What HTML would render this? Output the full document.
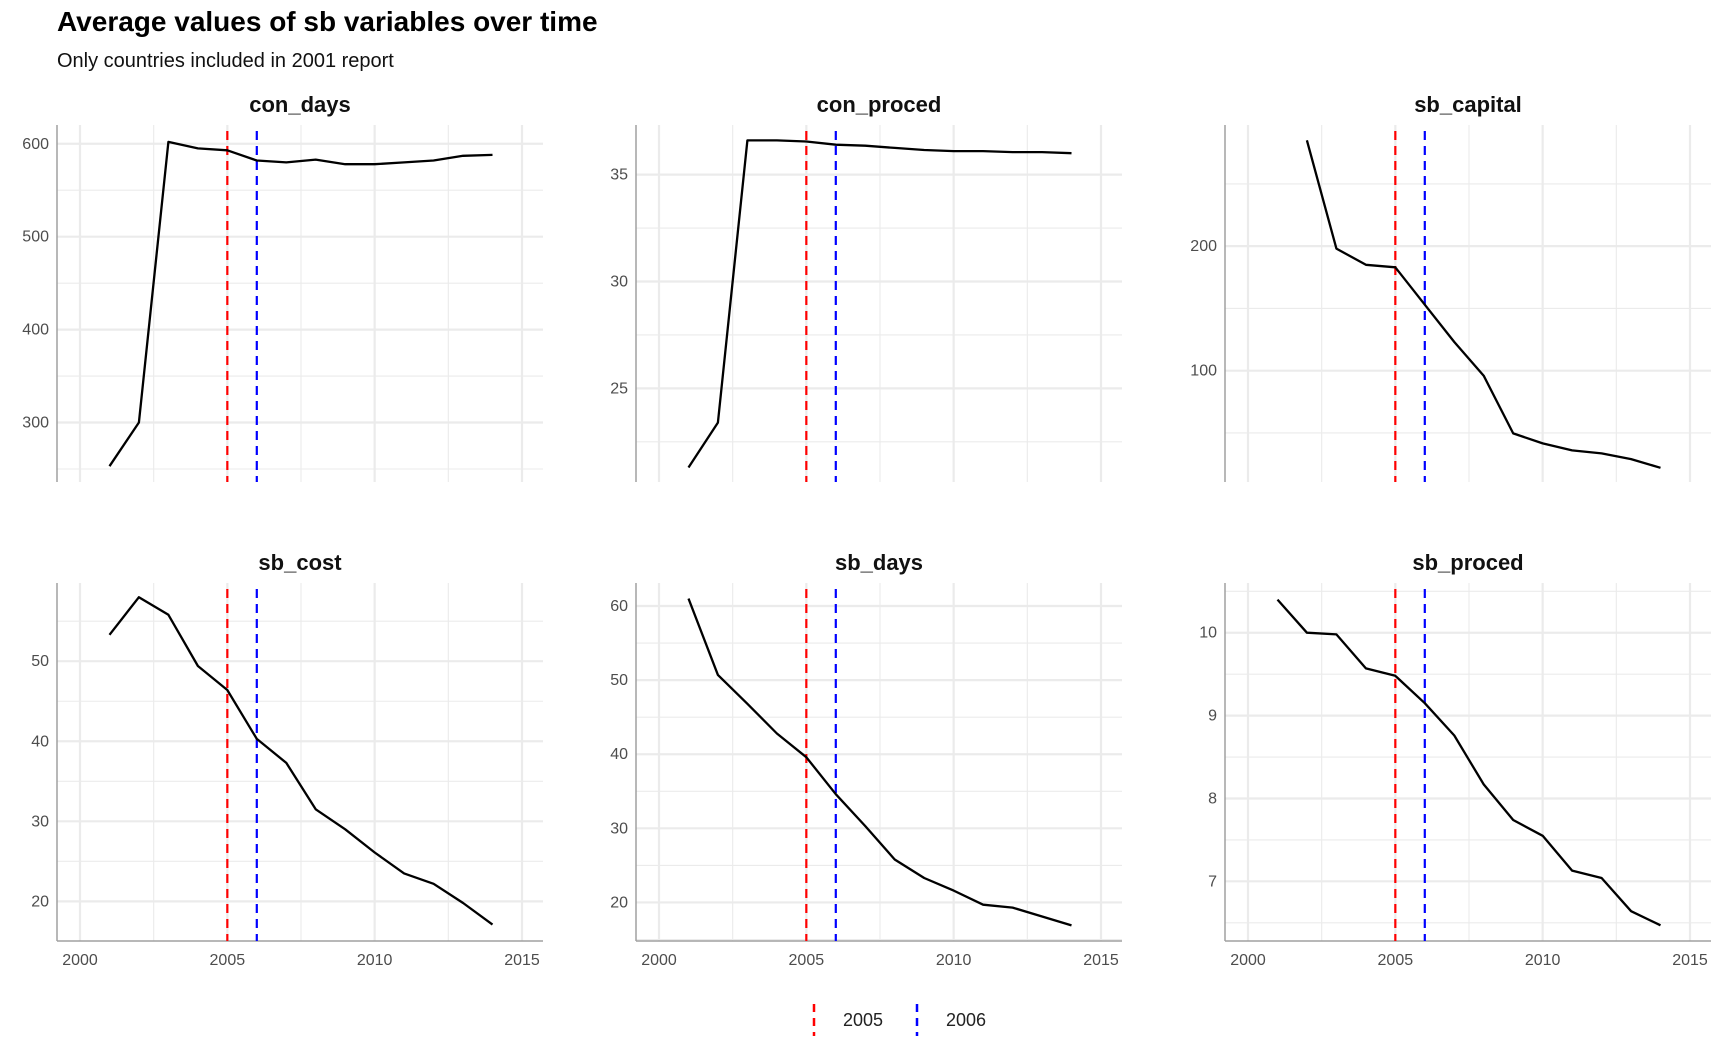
<!DOCTYPE html>
<html><head><meta charset="utf-8"><style>
body{margin:0;background:#fff;}
svg{display:block;font-family:"Liberation Sans",sans-serif;}
</style></head><body>
<svg id="chart" width="1728" height="1056">
<text x="57" y="31" font-size="28" font-weight="bold" fill="#000">Average values of sb variables over time</text>
<text x="57" y="67" font-size="20" fill="#111">Only countries included in 2001 report</text>
<g>
<line x1="814" y1="1004" x2="814" y2="1036" stroke="#ff0000" stroke-width="2.5" stroke-dasharray="8,6"/>
<text x="843" y="1026" font-size="18" fill="#222">2005</text>
<line x1="917" y1="1004" x2="917" y2="1036" stroke="#0000ff" stroke-width="2.5" stroke-dasharray="8,6"/>
<text x="946" y="1026" font-size="18" fill="#222">2006</text>
</g>
</svg>
<script>
const years=[2001,2002,2003,2004,2005,2006,2007,2008,2009,2010,2011,2012,2013,2014];
const panelNames=["con_days","con_proced","sb_capital","sb_cost","sb_days","sb_proced"];
const conDays=[253,300,602,595,593,582,580,583,578,578,580,582,587,588];
const conProced=[21.3,23.4,36.6,36.6,36.55,36.4,36.35,36.25,36.15,36.1,36.1,36.05,36.05,36.0];
const sbCapital=[null,285,198,185,183,153,123,96,49.6,41.6,36,33.6,29,22];
const sbCost=[53.3,58,55.8,49.4,46.4,40.3,37.3,31.5,29,26.1,23.5,22.2,19.8,17.1];
const sbDays=[61,50.7,46.8,42.8,39.6,34.6,30.3,25.8,23.3,21.6,19.7,19.3,18.1,16.9];
const sbProced=[10.4,10.0,9.98,9.57,9.48,9.15,8.76,8.17,7.74,7.55,7.13,7.04,6.64,6.47];
const series=[conDays,conProced,sbCapital,sbCost,sbDays,sbProced];
const yDomains=[[236,620.2],[20.62,37.32],[10.6,297.3],[15.05,59.77],[14.8,63.1],[6.28,10.6]];
const yTicks=[[300,400,500,600],[25,30,35],[100,200],[20,30,40,50],[20,30,40,50,60],[7,8,9,10]];
const yStep=[50,2.5,50,5,5,0.5];
const xTicks=[2000,2005,2010,2015];
const refYears=[2005,2006];
const refColors=["#ff0000","#0000ff"];

const svg=document.getElementById('chart');
const NS="http://www.w3.org/2000/svg";
function mk(tag,attrs,parent){const e=document.createElementNS(NS,tag);for(const k in attrs)e.setAttribute(k,attrs[k]);parent.appendChild(e);return e;}
const colLeft=[57,636,1225], rowTop=[125,583], rowBot=[482,941], W=486;
panelNames.forEach((name,i)=>{
  const c=i%3,r=Math.floor(i/3);
  const L=colLeft[c],R=L+W,T=rowTop[r],B=rowBot[r];
  const g=mk('g',{},svg);
  
  
  const x=v=>L+23+(v-2000)*(442/15);
  const [y0,y1]=yDomains[i];
  const y=v=>B-(v-y0)/(y1-y0)*(B-T);
  const st=yStep[i];
  for(let v=Math.ceil(y0/st)*st;v<=y1;v+=st){
    const isMajor=yTicks[i].some(t=>Math.abs(t-v)<1e-6);
    const ln=mk('line',{x1:L,x2:R,y1:y(v),y2:y(v),stroke:'#ebebeb','stroke-width':isMajor?2.2:1.1},g);
    
    
  }
  for(let v=2000;v<=2015;v+=2.5){
    const isMajor=v%5===0;
    const ln=mk('line',{x1:x(v),x2:x(v),y1:T,y2:B,stroke:'#ebebeb','stroke-width':isMajor?2.2:1.1},g);
    
    
  }
  yTicks[i].forEach(t=>{
    const tx=mk('text',{x:L-8,y:y(t)+5,'font-size':16,fill:'#4d4d4d','text-anchor':'end'},g);
    tx.textContent=t;
    
    
  });
  const ax=mk('line',{x1:L,x2:L,y1:T,y2:B,stroke:'#a0a0a0','stroke-width':1.5},g);
  
  
  if(r===1){
    const bx=mk('line',{x1:L,x2:R,y1:B,y2:B,stroke:'#a0a0a0','stroke-width':1.5},g);
    
    
    xTicks.forEach(t=>{
      const tx=mk('text',{x:x(t),y:B+24,'font-size':16,fill:'#4d4d4d','text-anchor':'middle'},g);
      tx.textContent=t;
      
      
    });
  }
  const st2=mk('text',{x:(L+R)/2,y:T-13,'font-size':22,'font-weight':'bold',fill:'#111','text-anchor':'middle'},g);
  st2.textContent=name;
  
  
  refYears.forEach((yr,k)=>{
    const vl=mk('line',{x1:x(yr),x2:x(yr),y1:T+6,y2:B,stroke:refColors[k],'stroke-width':2.2,'stroke-dasharray':'9,6'},g);
    
    
  });
  const pts=[];
  series[i].forEach((v,j)=>{if(v!==null)pts.push(x(years[j]).toFixed(1)+','+y(v).toFixed(1));});
  const pl=mk('polyline',{points:pts.join(' '),fill:'none',stroke:'#000','stroke-width':2.3,'stroke-linejoin':'round'},g);
  
  
});
</script>
</body></html>
